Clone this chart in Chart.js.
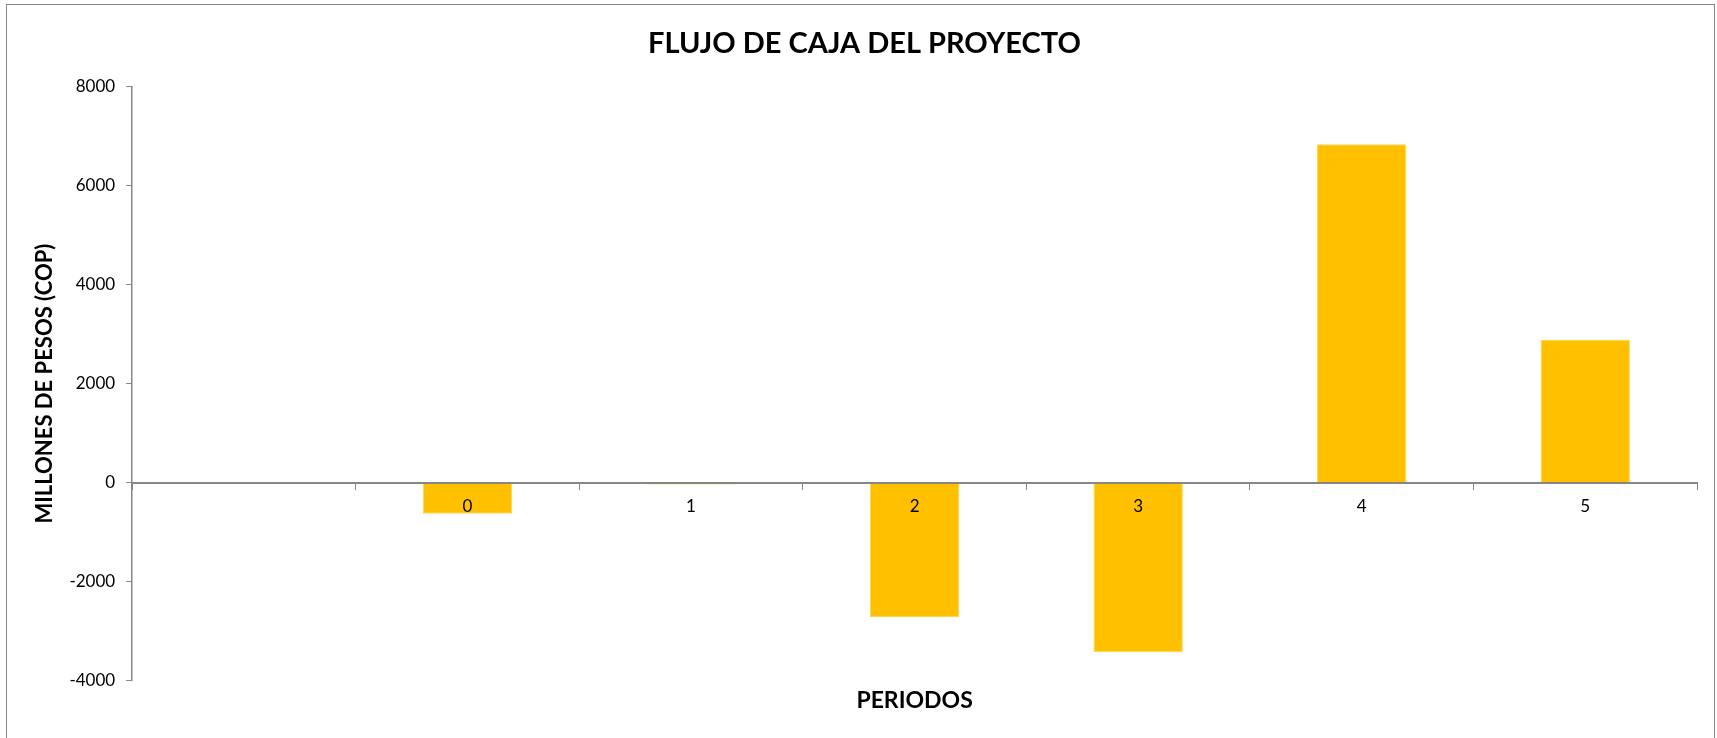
<!DOCTYPE html>
<html>
<head>
<meta charset="utf-8">
<script src="https://cdn.jsdelivr.net/npm/chart.js@4/dist/chart.umd.min.js"></script>
<style>
  html, body { margin: 0; padding: 0; background: #fff; }
  #wrap { position: relative; width: 1717px; height: 738px; }
</style>
</head>
<body>
<div id="wrap"><canvas id="flujo-chart"></canvas></div>
<script>
// Periodos (the first Excel row is blank, so it keeps an empty slot)
const periodos = ['', '0', '1', '2', '3', '4', '5'];
// Flujo de caja, millones de COP
const flujoCaja = [null, -630, -40, -2720, -3430, 6840, 2880];
// Eje Y
const yMin = -4000;
const yMax = 8000;
const yStep = 2000;

const AXIS_GREY = '#868686';
const FONT = 'Lato, "Open Sans", sans-serif';

// thin frame around the whole chart like the Excel chart object
const framePlugin = {
    id: 'frame',
    beforeDraw(chart) {
        const ctx = chart.ctx;
        ctx.save();
        ctx.fillStyle = '#fff';
        ctx.fillRect(0, 0, chart.width, chart.height);
        ctx.strokeStyle = AXIS_GREY;
        ctx.lineWidth = 1;
        ctx.strokeRect(6.5, 4.5, 1708, 760);
        ctx.restore();
    }
};

const ctx = document.getElementById('flujo-chart').getContext('2d');
new Chart(ctx, {
    type: 'bar',
    data: {
        labels: periodos,
        datasets: [{
            label: 'Flujo de caja',
            data: flujoCaja,
            backgroundColor: '#FFC000',
            borderColor: '#FFD54F',
            borderWidth: 1,
            categoryPercentage: 0.4,
            barPercentage: 1
        }]
    },
    options: {
        responsive: true,
        maintainAspectRatio: false,
        animation: false,
        layout: { padding: { left: 32, right: 20, top: 0, bottom: 0 } },
        plugins: {
            legend: { display: false },
            tooltip: { enabled: false },
            title: {
                display: true,
                text: 'FLUJO DE CAJA DEL PROYECTO',
                color: '#000',
                font: { family: FONT, size: 29, weight: 'bold' },
                padding: { top: 26, bottom: 26 }
            },
            subtitle: {
                display: true,
                position: 'bottom',
                fullSize: false,
                text: 'PERIODOS',
                color: '#000',
                font: { family: FONT, size: 23, weight: 'bold' },
                padding: { top: 6, bottom: 24 }
            }
        },
        scales: {
            x: {
                position: { y: 0 },
                grid: { drawOnChartArea: false, offset: true, tickLength: 6, color: AXIS_GREY, z: 1 },
                border: { color: AXIS_GREY, width: 2, z: 1 },
                ticks: { color: '#000', font: { family: FONT, size: 17 }, padding: 8, z: 1 }
            },
            y: {
                min: yMin,
                max: yMax,
                ticks: {
                    stepSize: yStep,
                    color: '#000',
                    font: { family: FONT, size: 17 },
                    padding: 11,
                    callback: (v) => String(v)
                },
                grid: { drawOnChartArea: false, tickLength: 6, color: AXIS_GREY },
                border: { color: AXIS_GREY, width: 1.5 },
                title: {
                    display: true,
                    text: 'MILLONES DE PESOS (COP)',
                    color: '#000',
                    font: { family: FONT, size: 22, weight: 'bold' },
                    padding: { top: 0, bottom: 0 }
                }
            }
        }
    },
    plugins: [framePlugin]
});
</script>
</body>
</html>
